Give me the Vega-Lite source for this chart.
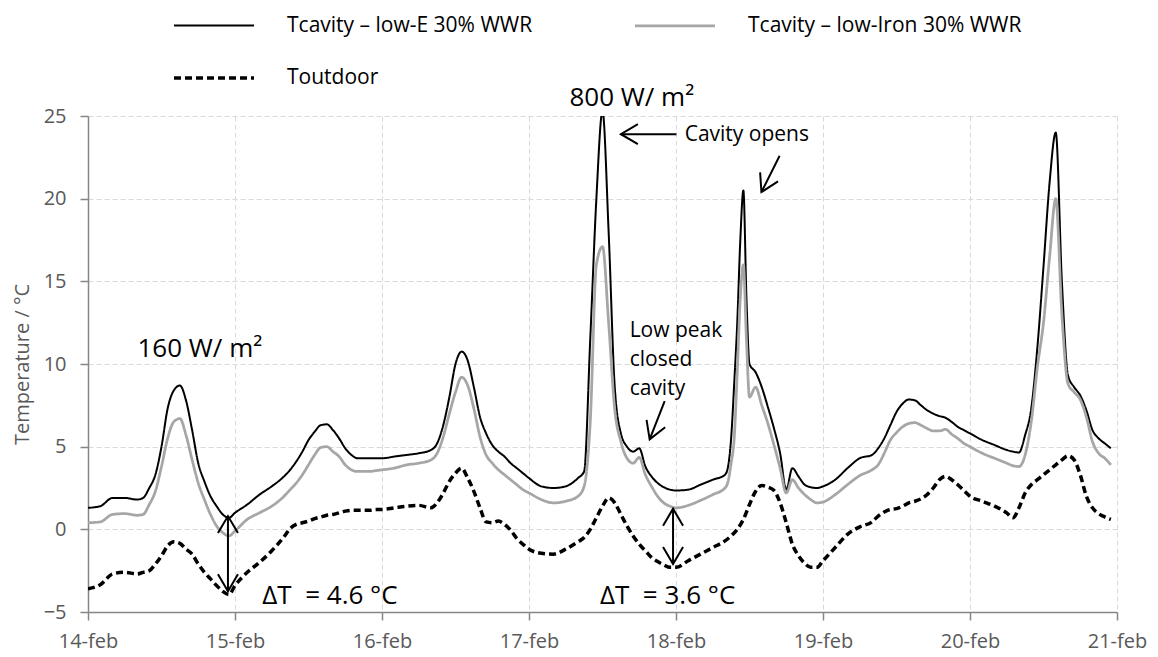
{
  "$schema": "https://vega.github.io/schema/vega-lite/v6.json",
  "width": 1029,
  "height": 496,
  "autosize": "none",
  "padding": {"left": 88, "top": 116, "right": 41, "bottom": 45},
  "config": {"font": "Open Sans", "view": {"stroke": null}},
  "datasets": {
    "temps": [
      {"t":"2014-02-14T00:00","E":1.3,"I":0.4,"O":-3.6},
      {"t":"2014-02-14T02:00","E":1.4,"I":0.45,"O":-3.35},
      {"t":"2014-02-14T04:00","E":1.9,"I":0.9,"O":-2.7},
      {"t":"2014-02-14T06:00","E":1.9,"I":0.95,"O":-2.6},
      {"t":"2014-02-14T08:00","E":1.8,"I":0.85,"O":-2.7},
      {"t":"2014-02-14T09:00","E":1.9,"I":0.9,"O":-2.6},
      {"t":"2014-02-14T10:00","E":2.5,"I":1.5,"O":-2.5},
      {"t":"2014-02-14T11:00","E":3.3,"I":2.3,"O":-2.1},
      {"t":"2014-02-14T12:00","E":5.0,"I":3.8,"O":-1.6},
      {"t":"2014-02-14T13:00","E":7.3,"I":5.5,"O":-1.0},
      {"t":"2014-02-14T14:00","E":8.4,"I":6.5,"O":-0.75},
      {"t":"2014-02-14T15:00","E":8.7,"I":6.7,"O":-0.85},
      {"t":"2014-02-14T16:00","E":7.8,"I":5.7,"O":-1.2},
      {"t":"2014-02-14T17:00","E":6.0,"I":4.2,"O":-1.5},
      {"t":"2014-02-14T18:00","E":4.0,"I":2.8,"O":-2.1},
      {"t":"2014-02-14T19:00","E":2.9,"I":1.8,"O":-2.6},
      {"t":"2014-02-14T20:00","E":2.0,"I":0.9,"O":-3.0},
      {"t":"2014-02-14T21:00","E":1.4,"I":0.2,"O":-3.4},
      {"t":"2014-02-14T22:00","E":0.9,"I":-0.2,"O":-3.75},
      {"t":"2014-02-14T23:00","E":0.7,"I":-0.4,"O":-3.95},
      {"t":"2014-02-15T00:00","E":1.0,"I":-0.1,"O":-3.4},
      {"t":"2014-02-15T02:00","E":1.5,"I":0.6,"O":-2.6},
      {"t":"2014-02-15T04:00","E":2.1,"I":1.0,"O":-2.0},
      {"t":"2014-02-15T06:00","E":2.6,"I":1.4,"O":-1.3},
      {"t":"2014-02-15T08:00","E":3.2,"I":2.0,"O":-0.45},
      {"t":"2014-02-15T09:00","E":3.6,"I":2.4,"O":0.05},
      {"t":"2014-02-15T10:00","E":4.1,"I":2.8,"O":0.3},
      {"t":"2014-02-15T11:00","E":4.7,"I":3.3,"O":0.4},
      {"t":"2014-02-15T12:00","E":5.4,"I":3.9,"O":0.5},
      {"t":"2014-02-15T13:00","E":5.9,"I":4.5,"O":0.65},
      {"t":"2014-02-15T14:00","E":6.3,"I":4.95,"O":0.75},
      {"t":"2014-02-15T15:00","E":6.35,"I":5.0,"O":0.85},
      {"t":"2014-02-15T16:00","E":6.0,"I":4.7,"O":0.9},
      {"t":"2014-02-15T17:00","E":5.5,"I":4.4,"O":1.0},
      {"t":"2014-02-15T18:00","E":4.9,"I":3.9,"O":1.1},
      {"t":"2014-02-15T19:00","E":4.5,"I":3.6,"O":1.15},
      {"t":"2014-02-15T20:00","E":4.3,"I":3.5,"O":1.15},
      {"t":"2014-02-15T21:00","E":4.3,"I":3.5,"O":1.15},
      {"t":"2014-02-15T22:00","E":4.3,"I":3.5,"O":1.15},
      {"t":"2014-02-15T23:00","E":4.3,"I":3.55,"O":1.2},
      {"t":"2014-02-16T00:00","E":4.3,"I":3.6,"O":1.2},
      {"t":"2014-02-16T02:00","E":4.4,"I":3.7,"O":1.3},
      {"t":"2014-02-16T04:00","E":4.5,"I":3.9,"O":1.4},
      {"t":"2014-02-16T06:00","E":4.6,"I":4.0,"O":1.45},
      {"t":"2014-02-16T08:00","E":4.8,"I":4.2,"O":1.3},
      {"t":"2014-02-16T09:00","E":5.2,"I":4.6,"O":1.6},
      {"t":"2014-02-16T10:00","E":6.3,"I":5.6,"O":2.2},
      {"t":"2014-02-16T11:00","E":8.0,"I":7.0,"O":2.9},
      {"t":"2014-02-16T12:00","E":10.0,"I":8.3,"O":3.4},
      {"t":"2014-02-16T13:00","E":10.75,"I":9.2,"O":3.7},
      {"t":"2014-02-16T14:00","E":10.2,"I":8.7,"O":3.1},
      {"t":"2014-02-16T15:00","E":8.6,"I":7.3,"O":2.3},
      {"t":"2014-02-16T16:00","E":6.8,"I":5.6,"O":1.3},
      {"t":"2014-02-16T17:00","E":5.8,"I":4.5,"O":0.45},
      {"t":"2014-02-16T18:00","E":5.1,"I":4.0,"O":0.4},
      {"t":"2014-02-16T19:00","E":4.7,"I":3.6,"O":0.5},
      {"t":"2014-02-16T20:00","E":4.4,"I":3.3,"O":0.3},
      {"t":"2014-02-16T21:00","E":4.0,"I":3.0,"O":-0.05},
      {"t":"2014-02-16T22:00","E":3.7,"I":2.7,"O":-0.55},
      {"t":"2014-02-16T23:00","E":3.4,"I":2.4,"O":-0.9},
      {"t":"2014-02-17T00:00","E":3.1,"I":2.2,"O":-1.2},
      {"t":"2014-02-17T02:00","E":2.6,"I":1.8,"O":-1.45},
      {"t":"2014-02-17T04:00","E":2.5,"I":1.6,"O":-1.5},
      {"t":"2014-02-17T06:00","E":2.6,"I":1.7,"O":-1.2},
      {"t":"2014-02-17T08:00","E":3.1,"I":2.0,"O":-0.75},
      {"t":"2014-02-17T09:00","E":3.5,"I":2.6,"O":-0.5},
      {"t":"2014-02-17T10:00","E":11.5,"I":6.5,"O":0.0},
      {"t":"2014-02-17T11:00","E":20.0,"I":16.0,"O":0.7},
      {"t":"2014-02-17T12:00","E":25.3,"I":17.1,"O":1.4},
      {"t":"2014-02-17T13:00","E":18.0,"I":12.5,"O":1.9},
      {"t":"2014-02-17T14:00","E":8.6,"I":7.25,"O":1.6},
      {"t":"2014-02-17T15:00","E":5.8,"I":5.3,"O":0.9},
      {"t":"2014-02-17T16:00","E":5.0,"I":4.3,"O":0.2},
      {"t":"2014-02-17T17:00","E":4.7,"I":4.0,"O":-0.4},
      {"t":"2014-02-17T18:00","E":4.9,"I":4.35,"O":-0.9},
      {"t":"2014-02-17T19:00","E":3.8,"I":3.3,"O":-1.3},
      {"t":"2014-02-17T20:00","E":3.2,"I":2.6,"O":-1.7},
      {"t":"2014-02-17T21:00","E":2.8,"I":2.0,"O":-1.95},
      {"t":"2014-02-17T22:00","E":2.55,"I":1.6,"O":-2.15},
      {"t":"2014-02-17T23:00","E":2.4,"I":1.4,"O":-2.3},
      {"t":"2014-02-18T00:00","E":2.35,"I":1.3,"O":-2.3},
      {"t":"2014-02-18T02:00","E":2.4,"I":1.45,"O":-1.9},
      {"t":"2014-02-18T04:00","E":2.7,"I":1.75,"O":-1.5},
      {"t":"2014-02-18T06:00","E":3.0,"I":2.1,"O":-1.1},
      {"t":"2014-02-18T08:00","E":3.3,"I":2.5,"O":-0.7},
      {"t":"2014-02-18T08:30","E":3.8,"I":2.9},
      {"t":"2014-02-18T09:00","E":5.5,"I":4.0,"O":-0.4},
      {"t":"2014-02-18T09:30","E":8.8,"I":5.5},
      {"t":"2014-02-18T10:00","E":12.5,"I":9.5,"O":0.0},
      {"t":"2014-02-18T10:30","E":17.5,"I":14.0},
      {"t":"2014-02-18T11:00","E":20.5,"I":16.0,"O":0.6},
      {"t":"2014-02-18T11:30","E":14.0,"I":11.5},
      {"t":"2014-02-18T12:00","E":10.0,"I":8.0,"O":1.5},
      {"t":"2014-02-18T13:00","E":9.5,"I":8.6,"O":2.3},
      {"t":"2014-02-18T14:00","E":8.6,"I":7.5,"O":2.65},
      {"t":"2014-02-18T15:00","E":7.4,"I":6.4,"O":2.55},
      {"t":"2014-02-18T16:00","E":6.1,"I":5.1,"O":2.35},
      {"t":"2014-02-18T17:00","E":4.6,"I":3.7,"O":1.6},
      {"t":"2014-02-18T18:00","E":2.4,"I":2.2,"O":0.4},
      {"t":"2014-02-18T19:00","E":3.7,"I":3.0,"O":-0.9},
      {"t":"2014-02-18T20:00","E":3.2,"I":2.5,"O":-1.6},
      {"t":"2014-02-18T21:00","E":2.7,"I":2.1,"O":-2.05},
      {"t":"2014-02-18T22:00","E":2.55,"I":1.8,"O":-2.3},
      {"t":"2014-02-18T23:00","E":2.5,"I":1.6,"O":-2.3},
      {"t":"2014-02-19T00:00","E":2.6,"I":1.65,"O":-1.9},
      {"t":"2014-02-19T02:00","E":3.0,"I":2.1,"O":-1.1},
      {"t":"2014-02-19T04:00","E":3.7,"I":2.7,"O":-0.3},
      {"t":"2014-02-19T06:00","E":4.3,"I":3.25,"O":0.15},
      {"t":"2014-02-19T08:00","E":4.5,"I":3.6,"O":0.45},
      {"t":"2014-02-19T09:00","E":4.9,"I":3.9,"O":0.8},
      {"t":"2014-02-19T10:00","E":5.5,"I":4.6,"O":1.05},
      {"t":"2014-02-19T11:00","E":6.3,"I":5.4,"O":1.2},
      {"t":"2014-02-19T12:00","E":7.1,"I":5.85,"O":1.25},
      {"t":"2014-02-19T13:00","E":7.6,"I":6.2,"O":1.4},
      {"t":"2014-02-19T14:00","E":7.85,"I":6.4,"O":1.6},
      {"t":"2014-02-19T15:00","E":7.8,"I":6.45,"O":1.7},
      {"t":"2014-02-19T16:00","E":7.5,"I":6.3,"O":1.85},
      {"t":"2014-02-19T17:00","E":7.2,"I":6.1,"O":2.1},
      {"t":"2014-02-19T18:00","E":7.0,"I":5.95,"O":2.5},
      {"t":"2014-02-19T19:00","E":6.85,"I":5.95,"O":3.0},
      {"t":"2014-02-19T20:00","E":6.75,"I":6.05,"O":3.2},
      {"t":"2014-02-19T21:00","E":6.5,"I":5.75,"O":3.0},
      {"t":"2014-02-19T22:00","E":6.2,"I":5.5,"O":2.7},
      {"t":"2014-02-19T23:00","E":6.0,"I":5.2,"O":2.35},
      {"t":"2014-02-20T00:00","E":5.8,"I":5.0,"O":2.0},
      {"t":"2014-02-20T02:00","E":5.4,"I":4.6,"O":1.7},
      {"t":"2014-02-20T04:00","E":5.1,"I":4.3,"O":1.4},
      {"t":"2014-02-20T06:00","E":4.8,"I":4.0,"O":1.0},
      {"t":"2014-02-20T07:00","E":4.7,"I":3.85,"O":0.7},
      {"t":"2014-02-20T08:00","E":4.65,"I":3.8,"O":1.3},
      {"t":"2014-02-20T09:00","E":5.7,"I":4.5,"O":2.2},
      {"t":"2014-02-20T10:00","E":7.3,"I":6.5,"O":2.7},
      {"t":"2014-02-20T11:00","E":11.0,"I":9.8,"O":3.0},
      {"t":"2014-02-20T12:00","E":15.9,"I":12.5,"O":3.3},
      {"t":"2014-02-20T13:00","E":21.0,"I":16.5,"O":3.6},
      {"t":"2014-02-20T14:00","E":24.0,"I":20.0,"O":3.9},
      {"t":"2014-02-20T15:00","E":15.0,"I":13.0,"O":4.2},
      {"t":"2014-02-20T16:00","E":9.3,"I":8.8,"O":4.45},
      {"t":"2014-02-20T17:00","E":8.6,"I":8.3,"O":4.2},
      {"t":"2014-02-20T18:00","E":8.1,"I":7.85,"O":3.3},
      {"t":"2014-02-20T19:00","E":7.2,"I":6.8,"O":2.0},
      {"t":"2014-02-20T20:00","E":6.0,"I":5.3,"O":1.3},
      {"t":"2014-02-20T21:00","E":5.5,"I":4.6,"O":0.95},
      {"t":"2014-02-20T22:00","E":5.2,"I":4.3,"O":0.75},
      {"t":"2014-02-20T23:00","E":4.9,"I":3.9,"O":0.6}
    ],
    "arrows": [
      {"arrow":"dT1","t1":"2014-02-14T22:51","v1":-3.75,"t2":"2014-02-14T22:51","v2":0.8},
      {"arrow":"dT2","t1":"2014-02-17T23:31","v1":-2.1,"t2":"2014-02-17T23:31","v2":1.25},
      {"arrow":"open1","t1":"2014-02-18T00:04","v1":23.9,"t2":"2014-02-17T15:00","v2":23.9},
      {"arrow":"open2","t1":"2014-02-18T16:55","v1":22.6,"t2":"2014-02-18T13:57","v2":20.4},
      {"arrow":"low","t1":"2014-02-17T22:09","v1":7.76,"t2":"2014-02-17T19:42","v2":5.44}
    ]
  },
  "layer": [
    {
      "data": {"name": "temps"},
      "transform": [
        {"fold": ["E", "I", "O"], "as": ["series", "temp"]},
        {"filter": "isValid(datum.temp)"}
      ],
      "mark": {"type": "line", "interpolate": "monotone", "clip": true},
      "encoding": {
        "x": {
          "field": "t", "type": "temporal",
          "scale": {"domain": [{"year": 2014, "month": "feb", "date": 14}, {"year": 2014, "month": "feb", "date": 21}]},
          "axis": {
            "title": null,
            "values": [
              {"year": 2014, "month": "feb", "date": 14},
              {"year": 2014, "month": "feb", "date": 15},
              {"year": 2014, "month": "feb", "date": 16},
              {"year": 2014, "month": "feb", "date": 17},
              {"year": 2014, "month": "feb", "date": 18},
              {"year": 2014, "month": "feb", "date": 19},
              {"year": 2014, "month": "feb", "date": 20},
              {"year": 2014, "month": "feb", "date": 21}
            ],
            "labelExpr": "lower(timeFormat(datum.value, '%d-%b'))",
            "grid": true, "gridDash": [5, 3], "gridColor": "#d9d9d9", "gridWidth": 1,
            "domainColor": "#868686", "domainWidth": 1.5,
            "tickColor": "#868686", "tickWidth": 1.5, "tickSize": 8,
            "labelFontSize": 20, "labelColor": "#595959", "labelPadding": 11,
            "labelFlush": false, "labelOverlap": false
          }
        },
        "y": {
          "field": "temp", "type": "quantitative",
          "scale": {"domain": [-5, 25], "nice": false},
          "axis": {
            "title": "Temperature / °C",
            "values": [-5, 0, 5, 10, 15, 20, 25],
            "titleFontSize": 20, "titleFontWeight": "normal", "titleColor": "#595959", "titlePadding": 11,
            "grid": true, "gridDash": [5, 3], "gridColor": "#d9d9d9", "gridWidth": 1,
            "domainColor": "#868686", "domainWidth": 1.5,
            "tickColor": "#868686", "tickWidth": 1.5, "tickSize": 8,
            "labelFontSize": 20, "labelColor": "#595959", "labelPadding": 14
          }
        },
        "color": {
          "field": "series", "type": "nominal",
          "scale": {"domain": ["E", "I", "O"], "range": ["#000000", "#a6a6a6", "#000000"]},
          "legend": {
            "title": null, "orient": "none", "legendX": 84, "legendY": -132,
            "direction": "horizontal", "columns": 2,
            "symbolType": "stroke", "symbolSize": 6400,
            "labelFontSize": 21, "labelColor": "#000000", "labelOffset": 31, "labelLimit": 500,
            "columnPadding": 96, "rowPadding": -35,
            "labelExpr": "datum.value == 'E' ? 'Tcavity – low-E 30% WWR' : datum.value == 'I' ? 'Tcavity – low-Iron 30% WWR' : 'Toutdoor'"
          }
        },
        "strokeDash": {
          "field": "series", "type": "nominal",
          "scale": {"domain": ["E", "I", "O"], "range": [[1, 0], [1, 0], [7, 4]]}
        },
        "strokeWidth": {
          "field": "series", "type": "nominal",
          "scale": {"domain": ["E", "I", "O"], "range": [2, 3.5, 1.8]}
        }
      }
    },
    {
      "data": {"values": [
        {"label": "800 W/ m²", "t": "2014-02-17T16:47", "temp": 25.6},
        {"label": "160 W/ m²", "t": "2014-02-14T18:16", "temp": 10.4},
        {"label": "ΔT\u00a0 = 4.6 °C", "t": "2014-02-15T15:30", "temp": -4.5},
        {"label": "ΔT\u00a0 = 3.6 °C", "t": "2014-02-17T22:38", "temp": -4.5}
      ]},
      "mark": {"type": "text", "fontSize": 26, "align": "center", "baseline": "alphabetic", "color": "#000000"},
      "encoding": {
        "x": {"field": "t", "type": "temporal"},
        "y": {"field": "temp", "type": "quantitative"},
        "text": {"field": "label"}
      }
    },
    {
      "data": {"values": [
        {"label": "Cavity opens", "t": "2014-02-18T01:25", "temp": 23.5},
        {"label": "Low peak\nclosed\ncavity", "t": "2014-02-17T16:26", "temp": 11.66}
      ]},
      "mark": {"type": "text", "fontSize": 21, "align": "left", "baseline": "alphabetic", "lineBreak": "\n", "lineHeight": 29, "color": "#000000"},
      "encoding": {
        "x": {"field": "t", "type": "temporal"},
        "y": {"field": "temp", "type": "quantitative"},
        "text": {"field": "label"}
      }
    },
    {
      "data": {"name": "arrows"},
      "mark": {"type": "rule", "color": "#000000", "strokeWidth": 2},
      "encoding": {
        "x": {"field": "t1", "type": "temporal"},
        "y": {"field": "v1", "type": "quantitative"},
        "x2": {"field": "t2"},
        "y2": {"field": "v2"}
      }
    },
    {
      "data": {"name": "arrows"},
      "transform": [{"filter": "datum.arrow == 'dT1' || datum.arrow == 'dT2'"}],
      "mark": {"type": "point", "shape": "M-1.7,-1L0,0L-1.7,1", "filled": false, "stroke": "#000000", "strokeWidth": 2, "size": 400, "opacity": 1, "angle": 270},
      "encoding": {
        "x": {"field": "t2", "type": "temporal"},
        "y": {"field": "v2", "type": "quantitative"}
      }
    },
    {
      "data": {"name": "arrows"},
      "transform": [{"filter": "datum.arrow == 'dT1' || datum.arrow == 'dT2'"}],
      "mark": {"type": "point", "shape": "M-1.7,-1L0,0L-1.7,1", "filled": false, "stroke": "#000000", "strokeWidth": 2, "size": 400, "opacity": 1, "angle": 90},
      "encoding": {
        "x": {"field": "t1", "type": "temporal"},
        "y": {"field": "v1", "type": "quantitative"}
      }
    },
    {
      "data": {"name": "arrows"},
      "transform": [{"filter": "datum.arrow == 'open1'"}],
      "mark": {"type": "point", "shape": "M-1.7,-1L0,0L-1.7,1", "filled": false, "stroke": "#000000", "strokeWidth": 2, "size": 400, "opacity": 1, "angle": 180},
      "encoding": {
        "x": {"field": "t2", "type": "temporal"},
        "y": {"field": "v2", "type": "quantitative"}
      }
    },
    {
      "data": {"name": "arrows"},
      "transform": [{"filter": "datum.arrow == 'open2'"}],
      "mark": {"type": "point", "shape": "M-1.7,-1L0,0L-1.7,1", "filled": false, "stroke": "#000000", "strokeWidth": 2, "size": 400, "opacity": 1, "angle": 116.6},
      "encoding": {
        "x": {"field": "t2", "type": "temporal"},
        "y": {"field": "v2", "type": "quantitative"}
      }
    },
    {
      "data": {"name": "arrows"},
      "transform": [{"filter": "datum.arrow == 'low'"}],
      "mark": {"type": "point", "shape": "M-1.7,-1L0,0L-1.7,1", "filled": false, "stroke": "#000000", "strokeWidth": 2, "size": 400, "opacity": 1, "angle": 111.4},
      "encoding": {
        "x": {"field": "t2", "type": "temporal"},
        "y": {"field": "v2", "type": "quantitative"}
      }
    }
  ]
}
